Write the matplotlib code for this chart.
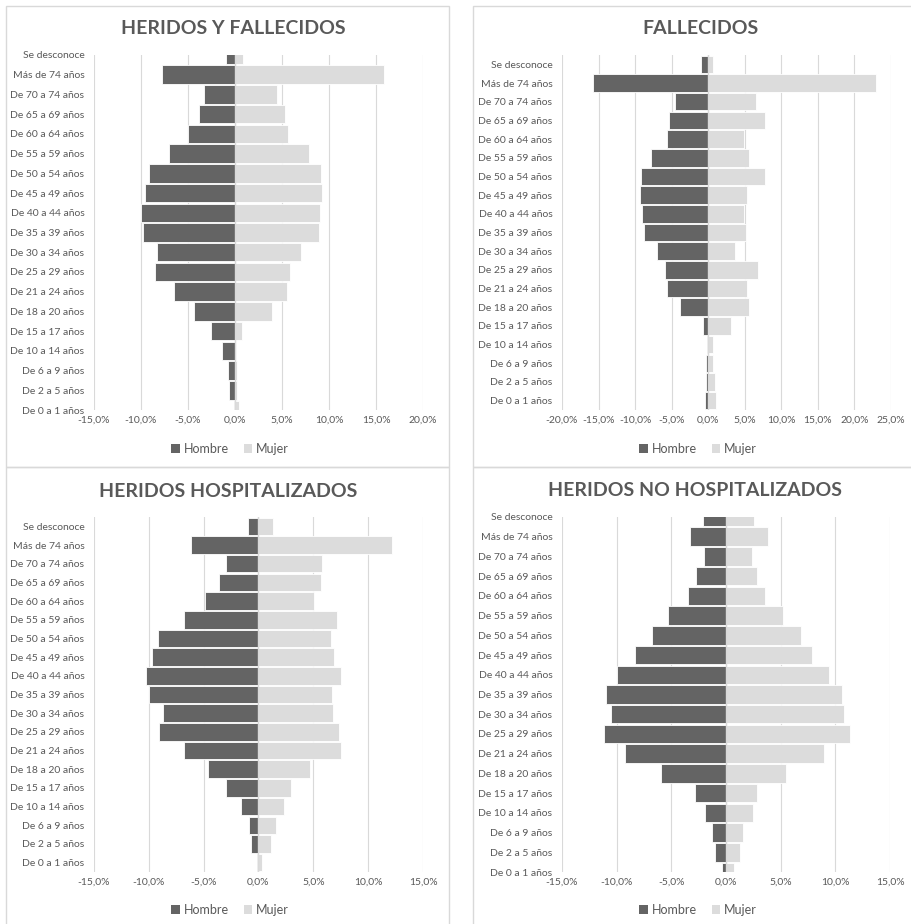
import matplotlib
matplotlib.use("Agg")
import matplotlib.pyplot as plt
from matplotlib.patches import Patch, Rectangle
from matplotlib.ticker import FuncFormatter

plt.rcParams['font.family'] = ['Lato', 'DejaVu Sans']

W, H = 912, 924

# age groups, top row first
edades = ["Se desconoce", "Más de 74 años", "De 70 a 74 años", "De 65 a 69 años",
          "De 60 a 64 años", "De 55 a 59 años", "De 50 a 54 años", "De 45 a 49 años",
          "De 40 a 44 años", "De 35 a 39 años", "De 30 a 34 años", "De 25 a 29 años",
          "De 21 a 24 años", "De 18 a 20 años", "De 15 a 17 años", "De 10 a 14 años",
          "De 6 a 9 años", "De 2 a 5 años", "De 0 a 1 años"]

# percentages (same order as edades)
hf_hombre = [1.0, 7.8, 3.3, 3.8, 5.0, 7.0, 9.2, 9.6, 10.0, 9.8, 8.3, 8.5, 6.5, 4.4, 2.5, 1.4, 0.7, 0.6, 0.1]
hf_mujer = [0.9, 15.8, 4.5, 5.3, 5.6, 7.9, 9.2, 9.3, 9.0, 8.9, 7.0, 5.9, 5.5, 3.9, 0.7, 0.1, 0.25, 0.25, 0.4]

fall_hombre = [1.0, 15.8, 4.5, 5.3, 5.7, 7.8, 9.2, 9.3, 9.0, 8.8, 7.0, 5.9, 5.6, 3.8, 0.7, 0.15, 0.3, 0.3, 0.4]
fall_mujer = [0.7, 22.9, 6.5, 7.7, 4.9, 5.6, 7.7, 5.3, 4.9, 5.1, 3.6, 6.8, 5.3, 5.6, 3.1, 0.7, 0.7, 0.9, 1.1]

hosp_hombre = [1.0, 6.2, 3.0, 3.6, 4.9, 6.8, 9.2, 9.7, 10.3, 10.0, 8.7, 9.1, 6.8, 4.6, 3.0, 1.6, 0.9, 0.7, 0.1]
hosp_mujer = [1.3, 12.2, 5.8, 5.7, 5.1, 7.2, 6.6, 6.9, 7.5, 6.7, 6.8, 7.3, 7.5, 4.7, 3.0, 2.3, 1.6, 1.1, 0.3]

nohosp_hombre = [2.1, 3.3, 2.0, 2.7, 3.5, 5.3, 6.8, 8.3, 10.0, 11.0, 10.5, 11.2, 9.2, 5.9, 2.8, 1.9, 1.3, 1.0, 0.4]
nohosp_mujer = [2.6, 3.8, 2.4, 2.8, 3.6, 5.2, 6.9, 7.9, 9.4, 10.6, 10.8, 11.3, 9.0, 5.5, 2.8, 2.5, 1.6, 1.3, 0.7]

DARK = '#646464'
LIGHT = '#dcdcdc'
TEXT = '#595959'
GRID = '#d9d9d9'


def fig_box(x0, x1, y0, y1):
    return [x0 / W, 1 - y1 / H, (x1 - x0) / W, (y1 - y0) / H]


def pct(v, pos):
    return f"{v:.1f}%".replace('.', ',')


def pyramid(fig, box, hombre, mujer, xlim, step, ylim, title, title_xy, legend_xy):
    ax = fig.add_axes(fig_box(*box))
    n = len(edades)
    pos = [n - 1 - i for i in range(n)]
    ax.barh(pos, [-v for v in hombre], height=0.94, color=DARK, edgecolor='white', linewidth=0.6, zorder=2)
    ax.barh(pos, mujer, height=0.94, color=LIGHT, edgecolor='white', linewidth=0.6, zorder=2)
    ax.axvline(0, color=GRID, lw=1.0, zorder=3)

    ax.set_xlim(*xlim)
    ax.set_ylim(*ylim)
    ticks = []
    t = xlim[0]
    while t <= xlim[1] + 1e-9:
        ticks.append(t)
        t += step
    ax.set_xticks(ticks)
    ax.xaxis.set_major_formatter(FuncFormatter(pct))
    ax.set_yticks(pos)
    ax.set_yticklabels(edades)
    ax.tick_params(axis='both', length=0, labelsize=7.5, labelcolor=TEXT)
    ax.tick_params(axis='x', pad=4)
    ax.tick_params(axis='y', pad=7)
    ax.grid(axis='x', color=GRID, lw=0.8)
    ax.set_axisbelow(True)
    for s in ax.spines.values():
        s.set_visible(False)

    fig.text(title_xy[0] / W, 1 - title_xy[1] / H, title, ha='center', va='center',
             fontsize=14, fontweight='bold', color=TEXT)

    handles = [Patch(facecolor=DARK, label='Hombre'), Patch(facecolor=LIGHT, label='Mujer')]
    fig.legend(handles=handles, loc='center', ncol=2, frameon=False,
               bbox_to_anchor=(legend_xy[0] / W, 1 - legend_xy[1] / H),
               fontsize=9, labelcolor=TEXT, handlelength=0.7, handleheight=0.7,
               handletextpad=0.3, columnspacing=1.2)
    return ax


fig = plt.figure(figsize=(W / 100, H / 100), dpi=100)

# panel frames
for x0, x1, y0, y1 in [(6, 449, 6, 467), (473, 920, 6, 467), (6, 449, 467, 930), (473, 920, 467, 930)]:
    fig.add_artist(Rectangle((x0 / W, 1 - y1 / H), (x1 - x0) / W, (y1 - y0) / H,
                             transform=fig.transFigure, fill=False, edgecolor=GRID, lw=1.0))

pyramid(fig, (94, 423, 55, 410), hf_hombre, hf_mujer, (-15, 20), 5, (0, 18),
        "HERIDOS Y FALLECIDOS", (233, 28), (230, 449))
pyramid(fig, (562, 891, 55, 410), fall_hombre, fall_mujer, (-20, 25), 5, (-0.5, 18.5),
        "FALLECIDOS", (700, 28), (698, 449))
pyramid(fig, (94, 423, 517, 872), hosp_hombre, hosp_mujer, (-15, 15), 5, (-0.5, 18.5),
        "HERIDOS HOSPITALIZADOS", (228, 492), (230, 910))
pyramid(fig, (562, 890, 517, 872), nohosp_hombre, nohosp_mujer, (-15, 15), 5, (0, 18),
        "HERIDOS NO HOSPITALIZADOS", (695, 491), (698, 910))

fig.savefig("out.png", dpi=100, facecolor='white')
